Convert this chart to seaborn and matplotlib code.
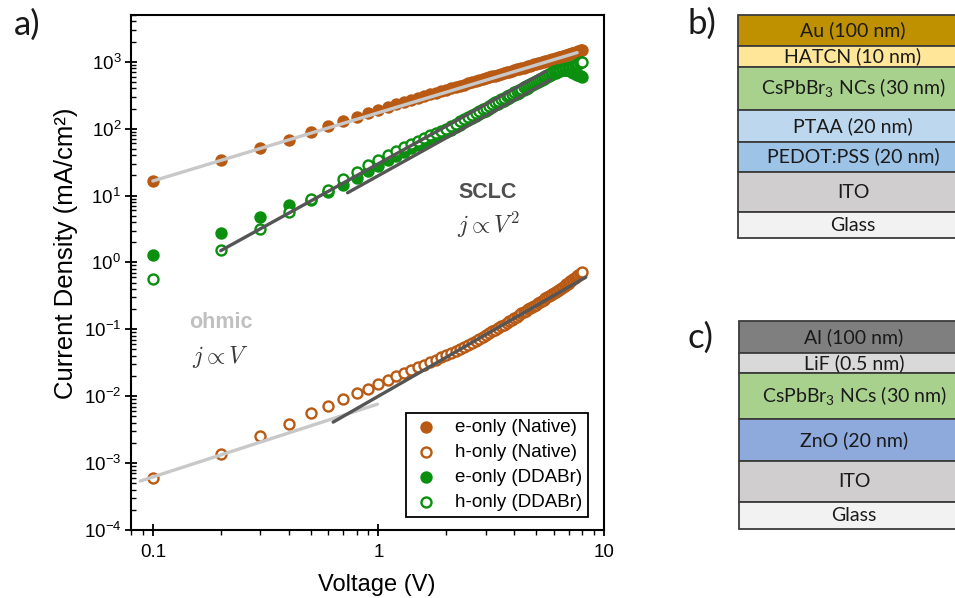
import matplotlib
matplotlib.use("Agg")
import matplotlib.pyplot as plt
from matplotlib.ticker import LogLocator, NullFormatter
import numpy as np
import pandas as pd
import seaborn as sns

# ---------------------------------------------------------------- data
voltage = [0.1, 0.2, 0.3, 0.4, 0.5, 0.6, 0.7, 0.8, 0.9, 1.0,
           1.1, 1.2, 1.3, 1.4, 1.5, 1.6, 1.7, 1.8, 1.9, 2.0,
           2.1, 2.2, 2.3, 2.4, 2.5, 2.6, 2.7, 2.8, 2.9, 3.0,
           3.1, 3.2, 3.3, 3.4, 3.5, 3.6, 3.7, 3.8, 3.9, 4.0,
           4.1, 4.2, 4.3, 4.4, 4.5, 4.6, 4.7, 4.8, 4.9, 5.0,
           5.1, 5.2, 5.3, 5.4, 5.5, 5.6, 5.7, 5.8, 5.9, 6.0,
           6.1, 6.2, 6.3, 6.4, 6.5, 6.6, 6.7, 6.8, 6.9, 7.0,
           7.1, 7.2, 7.3, 7.4, 7.5, 7.6, 7.7, 7.8, 7.9, 8.0]

# current densities in mA/cm^2
e_only_native = [16.7, 33.7, 51, 68.6, 88, 108, 129, 150, 171, 192,
                 211, 230, 249, 268, 287, 306, 325, 344, 363, 382,
                 401, 419, 438, 456, 475, 493, 512, 530, 548, 567,
                 585, 603, 621, 640, 658, 676, 694, 712, 730, 748,
                 766, 784, 802, 820, 838, 856, 874, 892, 910, 928,
                 946, 964, 982, 1000, 1018, 1036, 1054, 1072, 1090, 1108,
                 1126, 1144, 1162, 1180, 1198, 1217, 1236, 1255, 1274, 1293,
                 1312, 1331, 1350, 1370, 1390, 1410, 1432, 1455, 1478, 1500]

h_only_native = [0.00059, 0.00136, 0.00253, 0.00386, 0.00557, 0.0072, 0.0090, 0.0110, 0.0130, 0.0153,
                 0.0177, 0.0200, 0.0222, 0.0245, 0.0270, 0.0295, 0.0322, 0.0350, 0.0380, 0.0410,
                 0.0445, 0.0480, 0.0515, 0.0550, 0.0590, 0.0630, 0.0670, 0.0710, 0.0760, 0.0810,
                 0.0870, 0.0930, 0.0990, 0.1050, 0.1110, 0.1180, 0.1250, 0.1320, 0.1390, 0.1470,
                 0.155, 0.164, 0.173, 0.181, 0.190, 0.199, 0.208, 0.217, 0.226, 0.235,
                 0.246, 0.257, 0.268, 0.279, 0.290, 0.302, 0.314, 0.326, 0.338, 0.350,
                 0.364, 0.378, 0.392, 0.406, 0.420, 0.436, 0.452, 0.468, 0.484, 0.500,
                 0.520, 0.540, 0.560, 0.580, 0.600, 0.622, 0.645, 0.670, 0.695, 0.720]

e_only_ddabr = [1.29, 2.77, 4.75, 7.2, 8.6, 11.2, 14.5, 18.5, 23.0, 28.0,
                33.5, 39, 45, 51, 57, 63, 69.5, 76, 83, 89,
                97, 106, 115, 124, 133, 143, 154, 164, 175, 186,
                198, 210, 222, 235, 248, 261, 275, 289, 303, 317,
                332, 347, 362, 378, 394, 411, 428, 445, 462, 480,
                498, 517, 536, 555, 574, 594, 614, 634, 654, 673,
                690, 706, 720, 732, 742, 750, 756, 759, 760, 748,
                730, 710, 690, 670, 652, 638, 625, 614, 606, 600]

h_only_ddabr = [0.57, 1.56, 3.19, 5.7, 8.9, 12.2, 17.4, 22.6, 28.3, 34.4,
                40.5, 46.5, 53, 59.5, 66, 72.5, 79, 86, 93, 100,
                109, 119, 129, 139, 149, 160, 172, 183, 195, 207,
                220, 233, 246, 260, 274, 288, 303, 318, 333, 348,
                364, 380, 396, 413, 430, 448, 466, 484, 502, 520,
                539, 558, 578, 598, 618, 638, 659, 680, 700, 718,
                732, 745, 755, 765, 773, 780, 788, 795, 802, 810,
                824, 840, 855, 870, 890, 910, 932, 955, 977, 1000]

series_labels = ["e-only (Native)", "h-only (Native)", "e-only (DDABr)", "h-only (DDABr)"]

# fitted regimes: (V, j) end points
ohmic_fit_native_e_v = [0.1, 7.6]
ohmic_fit_native_e_j = [16.5, 1370]
sclc_fit_ddabr_h_v = [0.2, 5.5]
sclc_fit_ddabr_h_j = [1.5, 716]
sclc_fit_ddabr_e_v = [0.73, 5.8]
sclc_fit_ddabr_e_j = [11, 538]
ohmic_fit_native_h_v = [0.088, 0.99]
ohmic_fit_native_h_j = [5.4e-4, 7.6e-3]
sclc_fit_native_h_v = [0.63, 8.3]
sclc_fit_native_h_j = [4.1e-3, 0.6]

x_tick_values = [0.1, 1, 10]
x_tick_labels = ["0.1", "1", "10"]

# device stacks (top to bottom)
stack_b_layers = ["Au (100 nm)", "HATCN (10 nm)", r"CsPbBr$_\mathregular{3}$ NCs (30 nm)",
                  "PTAA (20 nm)", "PEDOT:PSS (20 nm)", "ITO", "Glass"]
stack_c_layers = ["Al (100 nm)", "LiF (0.5 nm)", r"CsPbBr$_\mathregular{3}$ NCs (30 nm)",
                  "ZnO (20 nm)", "ITO", "Glass"]

# ---------------------------------------------------------------- styles
ORANGE = "#B95A14"
GREEN = "#0A900E"
LIGHT_FIT = "#C8C8C8"
DARK_FIT = "#555555"

stack_b_heights = [31, 20.7, 43.3, 31.7, 30, 40.6, 25.7]
stack_b_colors = ["#BF9000", "#FFE699", "#A9D18E", "#BDD7EE", "#9DC3E6", "#D0CECE", "#F2F2F2"]
stack_c_heights = [32, 20.6, 45.7, 41.7, 41.6, 27]
stack_c_colors = ["#7F7F7F", "#D9D9D9", "#A9D18E", "#8EA9DB", "#D0CECE", "#F2F2F2"]

sns.set_style("ticks")
plt.rcParams["font.family"] = ["Liberation Sans", "DejaVu Sans"]
plt.rcParams["axes.linewidth"] = 1.5
plt.rcParams["axes.edgecolor"] = "black"
plt.rcParams["text.color"] = "black"
plt.rcParams["axes.labelcolor"] = "black"
plt.rcParams["xtick.color"] = "black"
plt.rcParams["ytick.color"] = "black"

W, H = 955, 598
fig = plt.figure(figsize=(W / 100, H / 100), dpi=100)


def px_axes(left, top, right, bottom):
    return fig.add_axes([left / W, 1 - bottom / H, (right - left) / W, (bottom - top) / H])


# ---------------------------------------------------------------- a) J-V curves
ax = px_axes(131, 15, 604, 530)
ax.set_xscale("log")
ax.set_yscale("log")

styles = [(ORANGE, True), (ORANGE, False), (GREEN, True), (GREEN, False)]
values = [e_only_native, h_only_native, e_only_ddabr, h_only_ddabr]
for label, vals, (col, filled) in zip(series_labels, values, styles):
    df = pd.DataFrame({"V": voltage, "J": vals})
    if filled:
        sns.scatterplot(data=df, x="V", y="J", ax=ax, color=col, s=80,
                        linewidth=0, label=label, zorder=2)
    else:
        sns.scatterplot(data=df, x="V", y="J", ax=ax, color="white", edgecolor=col,
                        s=52, linewidth=1.7, label=label, zorder=2)

fits = [
    (ohmic_fit_native_e_v, ohmic_fit_native_e_j, LIGHT_FIT),
    (ohmic_fit_native_h_v, ohmic_fit_native_h_j, LIGHT_FIT),
    (sclc_fit_ddabr_h_v, sclc_fit_ddabr_h_j, DARK_FIT),
    (sclc_fit_ddabr_e_v, sclc_fit_ddabr_e_j, DARK_FIT),
    (sclc_fit_native_h_v, sclc_fit_native_h_j, DARK_FIT),
]
for fv, fj, col in fits:
    sns.lineplot(x=fv, y=fj, ax=ax, color=col, linewidth=2.4, estimator=None,
                 sort=False, legend=False, zorder=3)

ax.set_xlim(0.08, 10)
ax.set_ylim(1e-4, 5e3)
ax.set_xticks(x_tick_values, labels=x_tick_labels)
ax.xaxis.set_minor_locator(LogLocator(base=10, subs=np.arange(2, 10), numticks=20))
ax.yaxis.set_major_locator(LogLocator(base=10, numticks=20))
ax.yaxis.set_minor_locator(LogLocator(base=10, subs=np.arange(2, 10), numticks=20))
ax.xaxis.set_minor_formatter(NullFormatter())
ax.yaxis.set_minor_formatter(NullFormatter())
ax.tick_params(which="major", direction="inout", length=8, width=1.3, labelsize=13.5,
               colors="black")
ax.tick_params(axis="x", which="minor", direction="out", length=3.5, width=1.0)
ax.tick_params(axis="y", which="minor", direction="in", length=3.5, width=1.0)
ax.tick_params(axis="x", which="major", pad=6)
ax.tick_params(axis="y", which="major", pad=3)
for sp in ax.spines.values():
    sp.set_visible(True)
    sp.set_linewidth(1.5)

ax.set_xlabel("Voltage (V)", fontsize=17)
ax.set_ylabel("Current Density (mA/cm²)", fontsize=18.5)
ax.xaxis.set_label_coords(0.519, -0.085)
ax.yaxis.set_label_coords(-0.112, 0.538)

ax.text(0.755, 0.656, "SCLC", transform=ax.transAxes, ha="center", va="center",
        fontsize=15.5, fontweight="bold", color="#4F4F4F")
ax.text(0.755, 0.592, r"$j \propto V^2$", transform=ax.transAxes, ha="center", va="center",
        fontsize=17, color="#3A3A3A", math_fontfamily="cm")
ax.text(0.19, 0.402, "ohmic", transform=ax.transAxes, ha="center", va="center",
        fontsize=15.5, fontweight="bold", color="#C0C0C0")
ax.text(0.19, 0.336, r"$j \propto V$", transform=ax.transAxes, ha="center", va="center",
        fontsize=17, color="#3A3A3A", math_fontfamily="cm")

handles, labels = ax.get_legend_handles_labels()
leg = ax.legend(handles, labels, loc="lower right", bbox_to_anchor=(0.966, 0.026),
                borderaxespad=0, frameon=True, fancybox=False, framealpha=1,
                edgecolor="black", fontsize=13.5, handletextpad=0.8,
                labelspacing=0.42, borderpad=0.3, handlelength=1.5, markerscale=1.0)
leg.get_frame().set_linewidth(1.3)

# ---------------------------------------------------------------- device stacks
def draw_stack(axs, names, heights, colors):
    total = sum(heights)
    top = total
    for name, h, col in zip(names, heights, colors):
        bottom = top - h
        axs.bar(0.5, h, bottom=bottom, width=1.0, color=col, edgecolor="#3C3C3C",
                linewidth=1.3, clip_on=False)
        axs.text(0.5, bottom + h / 2, name, ha="center", va="center", fontsize=14,
                 family=["Lato", "DejaVu Sans"], color="#1A1A1A")
        top = bottom
    axs.set_xlim(0, 1)
    axs.set_ylim(0, total)
    axs.axis("off")


ax_b = px_axes(738, 15, 968, 238)
draw_stack(ax_b, stack_b_layers, stack_b_heights, stack_b_colors)
ax_c = px_axes(739, 321, 969, 529)
draw_stack(ax_c, stack_c_layers, stack_c_heights, stack_c_colors)

# ---------------------------------------------------------------- panel letters
for lbl, xp, yp in [("a)", 27, 25), ("b)", 702, 24), ("c)", 700, 338)]:
    fig.text(xp / W, 1 - yp / H, lbl, ha="center", va="center", fontsize=25,
             family=["Lato", "DejaVu Sans"], color="#1A1A1A")

fig.savefig("out.png", dpi=100)
